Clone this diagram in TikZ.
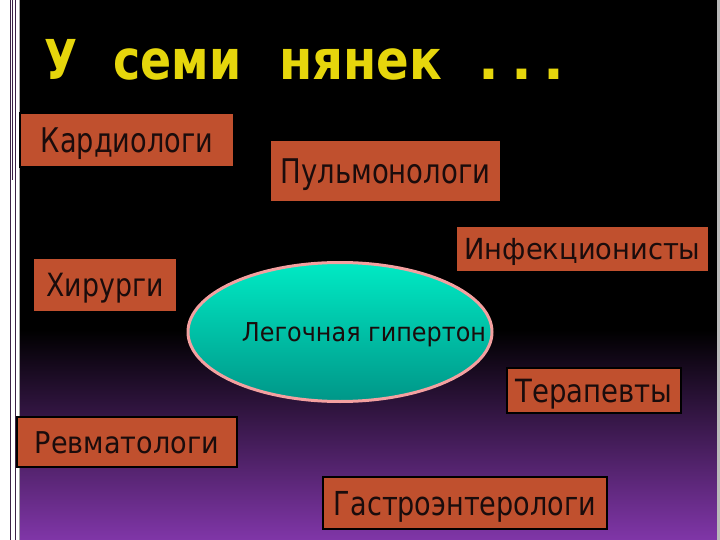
\documentclass[tikz,border=0pt]{standalone}
\usepackage{graphicx}
\usepackage{fontspec}
\setmainfont{DejaVu Sans}
\usetikzlibrary{shapes.geometric}
\definecolor{boxred}{RGB}{192,80,46}
\definecolor{textdark}{RGB}{26,12,12}
\definecolor{bgpurple}{RGB}{128,54,168}
\definecolor{titleyellow}{RGB}{230,214,12}
\definecolor{tealtop}{RGB}{0,234,196}
\definecolor{tealbot}{RGB}{0,150,136}
\definecolor{pinkb}{RGB}{244,160,160}
\definecolor{edgeline}{RGB}{60,34,70}
\newcommand\fitt[3]{\resizebox{#1pt}{\height}{\fontsize{#2}{#2}\selectfont #3}}
\newcommand\tw[2]{\resizebox{#1pt}{\height}{#2}}
\begin{document}
\begin{tikzpicture}[x=1pt,y=-1pt,
  box/.style={draw=black, line width=2.5pt, fill=boxred, inner sep=0pt, text=textdark, text depth=0pt},
  edge/.style={draw=edgeline, line width=0.8pt}]
\useasboundingbox (0,0) rectangle (720,540);
\fill[black] (0,0) rectangle (720,540);
\shade[top color=black, bottom color=bgpurple] (0,330) rectangle (720,540);
% left and right margins
\fill[white] (0,0) rectangle (19,540);
\draw[edge] (10,0) -- (10,540);
\draw[edge] (12,0) -- (12,180);
\draw[edge] (15,0) -- (15,540);
\draw[gray!70, line width=1pt] (19,0) -- (19,540);
\fill[gray!55] (717,0) rectangle (720,540);
% title
\node[anchor=base west, inner sep=0pt, text=titleyellow,
  font=\fontsize{55}{55}\selectfont\bfseries] (title) at (44,80)
  {\tw{33}{У}\hspace{36pt}\tw{128}{семи}\hspace{38pt}\tw{163}{нянек}\hspace{36pt}.\hspace{12pt}.\hspace{12pt}.};
% boxes
\node[box, minimum width=214pt, minimum height=54pt, text height=25pt] (kard) at (127,140) {\fitt{172}{34}{Кардиологи}};
\node[box, minimum width=231pt, minimum height=62pt, text height=25pt] (pulm) at (385.5,171) {\fitt{210}{34}{Пульмонологи}};
\node[box, minimum width=253pt, minimum height=46pt, text height=21pt] (infek) at (582.5,249) {\fitt{236}{29}{Инфекционисты}};
\node[box, minimum width=144pt, minimum height=54pt, text height=23pt] (hir) at (105,285) {\fitt{117}{32}{Хирурги}};
\node[box, minimum width=174pt, minimum height=45pt, text height=23pt] (terap) at (594,390.5) {\fitt{157}{32}{Терапевты}};
\node[box, minimum width=220pt, minimum height=50pt, text height=22pt] (revm) at (127,442) {\fitt{184}{30}{Ревматологи}};
\node[box, minimum width=284pt, minimum height=52pt, text height=24pt] (gastro) at (465,503) {\fitt{262}{33}{Гастроэнтерологи}};
% central ellipse
\node[ellipse, draw=pinkb, line width=3pt, minimum width=304pt, minimum height=139pt, inner sep=0pt,
  top color=tealtop, bottom color=tealbot, text=textdark, text height=19pt, text depth=0pt] (ell) at (340,332)
  {\makebox[0pt]{\hspace*{48pt}\fitt{244}{26}{Легочная гипертон}}};
\end{tikzpicture}
\end{document}
